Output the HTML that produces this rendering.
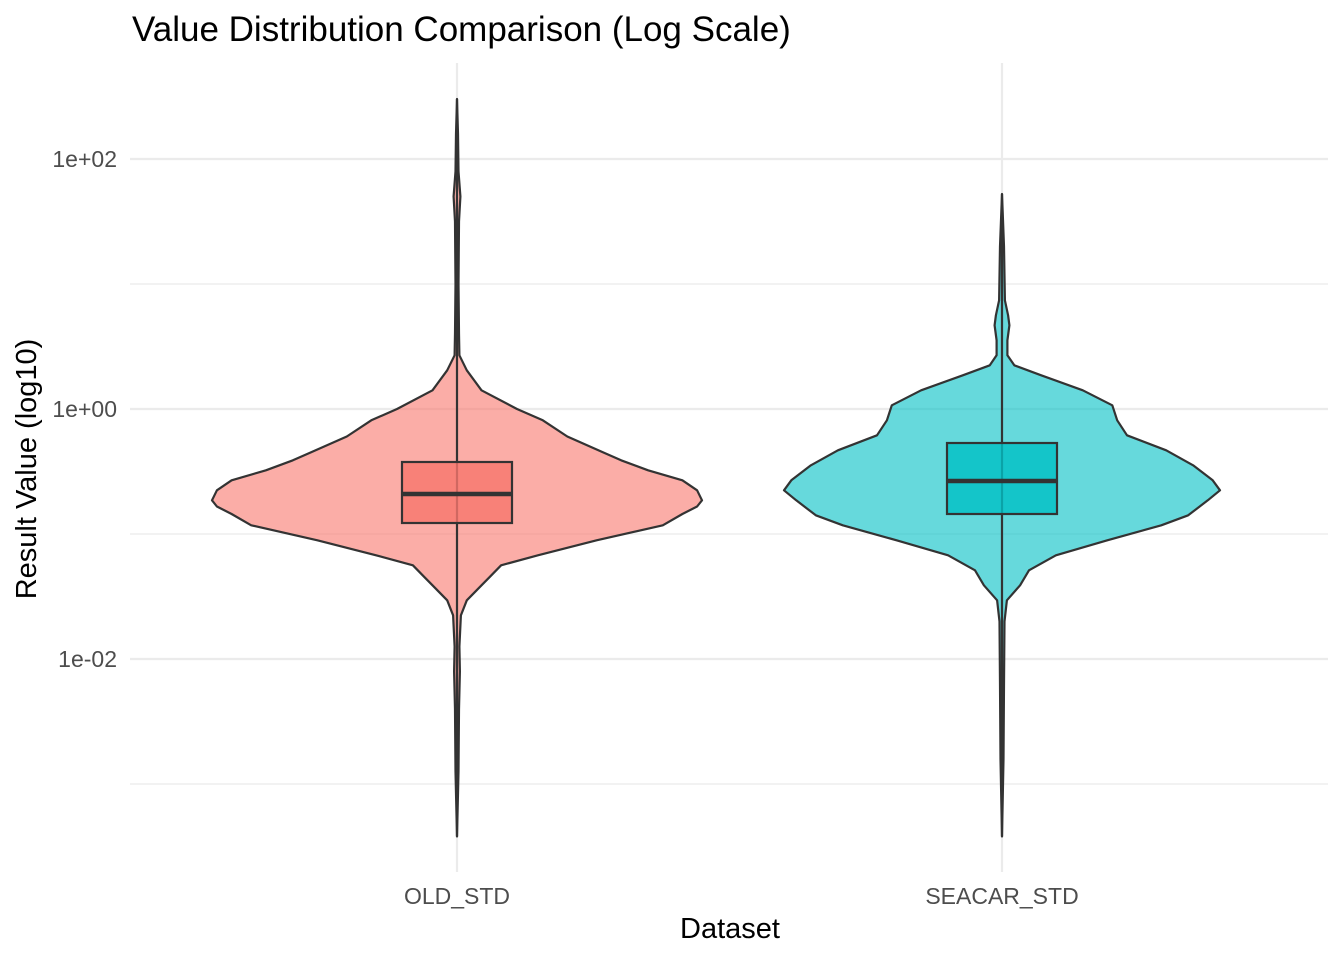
<!DOCTYPE html>
<html><head><meta charset="utf-8">
<style>
html,body{margin:0;padding:0;background:#fff;}
svg{display:block;font-family:"Liberation Sans",sans-serif;}
</style></head>
<body>
<svg id="chart" width="1344" height="960">
<text x="132" y="41" font-size="35" fill="#000">Value Distribution Comparison (Log Scale)</text>
<g id="grid"></g>
<g id="plot"></g>
<g id="axes"></g>
<text x="730" y="938" font-size="29" text-anchor="middle" fill="#000">Dataset</text>
<text transform="translate(36,469) rotate(-90)" font-size="29" text-anchor="middle" fill="#000">Result Value (log10)</text>
</svg>
<script>
// data (log10 values)
const categories = ["OLD_STD", "SEACAR_STD"];
const colors = ["#F8766D", "#00BFC4"];
const yTickLogs = [2, 0, -2];
const yTickLabels = ["1e+02", "1e+00", "1e-02"];
const yMinorLogs = [1, -1, -3];
// violin profiles: [log10 value, relative half-width (0..1 of max)]
const oldProfile = [[2.48,0],[2.2,0.004],[1.9,0.006],[1.7,0.014],[1.5,0.008],[1.0,0.006],[0.6,0.008],[0.43,0.01],[0.31,0.04],[0.15,0.1],[0,0.245],[-0.09,0.35],[-0.22,0.45],[-0.35,0.6],[-0.41,0.67],[-0.49,0.78],[-0.57,0.92],[-0.65,0.98],[-0.73,1.0],[-0.78,0.98],[-0.84,0.92],[-0.93,0.84],[-1.05,0.57],[-1.17,0.33],[-1.25,0.18],[-1.35,0.13],[-1.41,0.1],[-1.53,0.04],[-1.65,0.016],[-1.9,0.01],[-2.1,0.012],[-2.4,0.008],[-2.9,0.006],[-3.42,0]];
const seaProfile = [[1.72,0],[1.3,0.008],[0.87,0.012],[0.75,0.025],[0.67,0.03],[0.55,0.022],[0.43,0.022],[0.35,0.05],[0.27,0.16],[0.15,0.33],[0.03,0.45],[-0.09,0.47],[-0.21,0.51],[-0.33,0.67],[-0.45,0.78],[-0.57,0.86],[-0.65,0.89],[-0.73,0.84],[-0.85,0.76],[-0.93,0.65],[-1.05,0.43],[-1.17,0.22],[-1.29,0.11],[-1.41,0.074],[-1.53,0.02],[-1.7,0.01],[-2.2,0.008],[-2.8,0.006],[-3.42,0]];
const profiles = [oldProfile, seaProfile];
// box stats: [lowerWhisker, q1, median, q3, upperWhisker]
const boxStats = [[-1.62,-0.912,-0.68,-0.424,0.31],[-1.55,-0.84,-0.576,-0.272,0.57]];
const extremes = [[-3.42,2.48],[-3.42,1.72]];

const NS="http://www.w3.org/2000/svg";
const plotL=130, plotR=1328;
function y(v){return 409-125*v;}
function x(i){return 457+545*i;}
const maxHalf=245;
function mk(tag,attrs,parent){const e=document.createElementNS(NS,tag);for(const k in attrs)e.setAttribute(k,attrs[k]);parent.appendChild(e);return e;}
const grid=document.getElementById('grid'), plot=document.getElementById('plot'), axes=document.getElementById('axes');
yMinorLogs.forEach(v=>{const l=mk('line',{x1:plotL,x2:plotR,y1:y(v),y2:y(v),stroke:'#ebebeb','stroke-width':1.2},grid);

});
yTickLogs.forEach((v,i)=>{const l=mk('line',{x1:plotL,x2:plotR,y1:y(v),y2:y(v),stroke:'#ebebeb','stroke-width':2.2},grid);


const t=mk('text',{x:117,y:y(v)+8,'font-size':23,'text-anchor':'end',fill:'#4d4d4d'},axes);t.textContent=yTickLabels[i];

});
categories.forEach((c,i)=>{const l=mk('line',{x1:x(i),x2:x(i),y1:63,y2:872,stroke:'#ebebeb','stroke-width':2.2},grid);


const t=mk('text',{x:x(i),y:904,'font-size':23,'text-anchor':'middle',fill:'#4d4d4d'},axes);t.textContent=c;

});
categories.forEach((c,i)=>{
  const p=profiles[i], cx=x(i);
  let d='M'+cx+','+y(p[0][0]);
  p.forEach(q=>{d+=' L'+(cx+q[1]*maxHalf).toFixed(1)+','+y(q[0]).toFixed(1);});
  for(let k=p.length-1;k>=0;k--){d+=' L'+(cx-p[k][1]*maxHalf).toFixed(1)+','+y(p[k][0]).toFixed(1);}
  d+='Z';
  const v=mk('path',{d:d,fill:colors[i],'fill-opacity':0.6,stroke:'#333','stroke-width':2.2,'stroke-linejoin':'round'},plot);
  
  
  const ln=mk('line',{x1:cx,x2:cx,y1:y(extremes[i][0]),y2:y(extremes[i][1]),stroke:'#333','stroke-width':2.2},plot);
  
  
  const b=boxStats[i];
  const r=mk('rect',{x:cx-55,y:y(b[3]),width:110,height:y(b[1])-y(b[3]),fill:colors[i],'fill-opacity':0.8,stroke:'#333','stroke-width':2.2},plot);
  
  
  const m=mk('line',{x1:cx-55,x2:cx+55,y1:y(b[2]),y2:y(b[2]),stroke:'#333','stroke-width':4.5},plot);
  
  
});
</script>
</body></html>
